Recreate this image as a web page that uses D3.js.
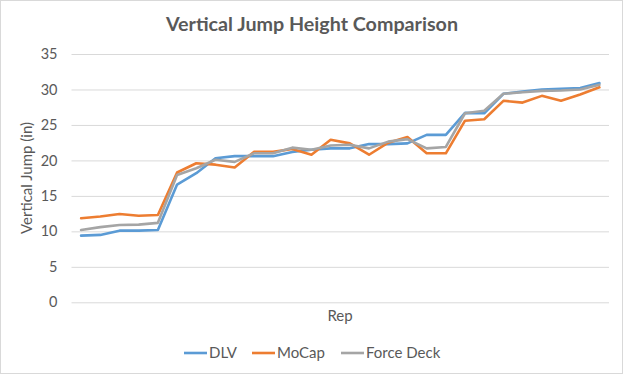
<!DOCTYPE html>
<html><head><meta charset="utf-8">
<script src="https://cdn.jsdelivr.net/npm/d3@7"></script>
<style>body{margin:0;background:#fff}svg{display:block}text{font-family:Lato,"Open Sans",sans-serif}</style>
</head><body>
<svg id="c" width="623" height="375"></svg>
<script>
const reps = d3.range(1, 29);
const dlv = [9.4,9.5,10.1,10.1,10.2,16.6,18.2,20.3,20.6,20.6,20.6,21.2,21.5,21.7,21.7,22.3,22.3,22.4,23.6,23.6,26.7,26.65,29.4,29.7,30.0,30.1,30.2,30.9];
const mocap = [11.85,12.1,12.45,12.2,12.3,18.3,19.6,19.4,19.0,21.2,21.2,21.6,20.8,22.9,22.4,20.8,22.5,23.3,21.0,21.0,25.6,25.8,28.4,28.15,29.1,28.4,29.3,30.3];
const forceDeck = [10.2,10.6,10.9,10.95,11.2,17.95,18.9,20.1,19.8,21.0,21.0,21.8,21.5,22.1,22.2,21.7,22.65,23.0,21.7,21.9,26.65,27.0,29.4,29.6,29.8,29.85,30.0,30.65];
const yTicks = [0,5,10,15,20,25,30,35];
const seriesNames = ["DLV","MoCap","Force Deck"];
const colors = ["#5b9bd5","#ed7d31","#a5a5a5"];
const seriesData = [dlv, mocap, forceDeck];

const svg = d3.select("#c");
svg.append("rect").attr("x",0.5).attr("y",0.5).attr("width",622).attr("height",373)
  .attr("fill","#fff").attr("stroke","#d9d9d9");

const x = d3.scaleBand().domain(reps).range([71.5, 609]);
const y = d3.scaleLinear().domain([0,35]).range([302.3, 54]);

const yAxis = svg.append("g").attr("transform","translate(71.5,0)")
  .call(d3.axisLeft(y).tickValues(yTicks).tickSize(-537.5).tickPadding(14));
yAxis.select(".domain").remove();
yAxis.selectAll("line").attr("stroke","#d9d9d9").attr("stroke-width",1);
yAxis.selectAll("text").attr("fill","#595959").style("font-size","14.5px").style("font-family","Lato,'Open Sans',sans-serif");

const line = d3.line().x((d,i)=>x(reps[i])+x.bandwidth()/2).y(d=>y(d));
seriesData.forEach((s,k)=>{
  svg.append("path").datum(s).attr("d",line).attr("fill","none")
    .attr("stroke",colors[k]).attr("stroke-width",2.6).attr("stroke-linejoin","round").attr("stroke-linecap","round");
});

svg.append("text").attr("x",312).attr("y",31).attr("text-anchor","middle")
  .attr("fill","#595959").style("font-size","19.7px").style("font-weight","bold").text("Vertical Jump Height Comparison");
svg.append("text").attr("transform","translate(32,178) rotate(-90)").attr("text-anchor","middle")
  .attr("fill","#595959").style("font-size","15px").text("Vertical Jump (in)");
svg.append("text").attr("x",340).attr("y",321).attr("text-anchor","middle")
  .attr("fill","#595959").style("font-size","15px").text("Rep");

const legX = [184, 252, 341];
seriesNames.forEach((n,k)=>{
  const g = svg.append("g").attr("transform",`translate(${legX[k]},353)`);
  g.append("line").attr("x1",0).attr("x2",23).attr("y1",0).attr("y2",0).attr("stroke",colors[k]).attr("stroke-width",2.6);
  g.append("text").attr("x",25).attr("y",5).attr("fill","#595959").style("font-size","15px").text(n);
});
</script>
</body></html>
